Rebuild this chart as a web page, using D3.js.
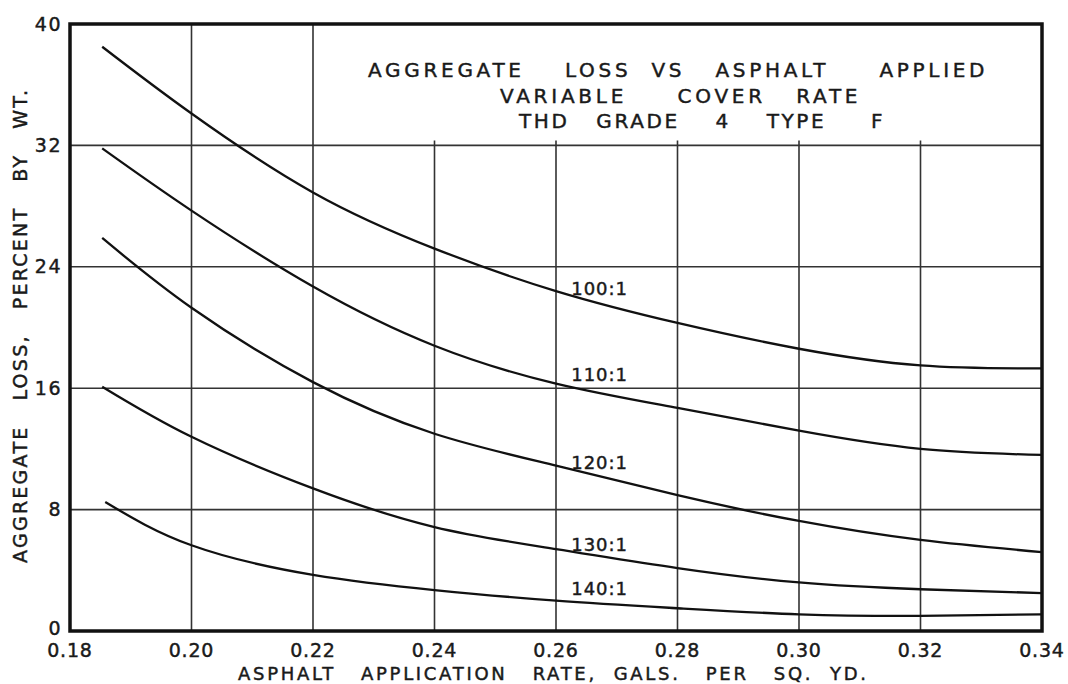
<!DOCTYPE html>
<html>
<head>
<meta charset="utf-8">
<script src="https://cdn.jsdelivr.net/npm/d3@7"></script>
<style>
  body { margin: 0; background: #fff; }
  svg text {
    font-family: "DejaVu Sans", "Liberation Sans", sans-serif;
    fill: #1a1a1a; stroke: #1a1a1a; stroke-width: 0.45px;
    white-space: pre;
  }
</style>
</head>
<body>
<div id="chart"></div>
<script>
// values
var rates = [0.1853, 0.20, 0.22, 0.24, 0.26, 0.28, 0.30, 0.32, 0.34];
var loss100 = [38.5, 34.1, 28.9, 25.2, 22.4, 20.3, 18.6, 17.5, 17.3];
var loss110 = [31.8, 27.7, 22.7, 18.8, 16.3, 14.7, 13.2, 12.0, 11.6];
var loss120 = [25.9, 21.3, 16.4, 13.0, 10.9, 8.95, 7.25, 6.0, 5.2];
var loss130 = [16.1, 12.8, 9.4, 6.85, 5.4, 4.15, 3.2, 2.75, 2.5];
var rates140 = [0.1858, 0.20, 0.22, 0.24, 0.26, 0.28, 0.30, 0.32, 0.34];
var loss140 = [8.5, 5.65, 3.7, 2.7, 2.0, 1.5, 1.1, 1.0, 1.1];

var curveNames = ["100:1", "110:1", "120:1", "130:1", "140:1"];
var labelY = [22.6, 16.9, 11.1, 5.7, 2.8]; // where the labels sit (value units)
var labelX = 0.2625;

var xTicks = [0.18, 0.20, 0.22, 0.24, 0.26, 0.28, 0.30, 0.32, 0.34];
var yTicks = [0, 8, 16, 24, 32, 40];
var titleLines = [
  "AGGREGATE    LOSS  VS   ASPHALT     APPLIED",
  "VARIABLE     COVER   RATE",
  "THD   GRADE    4    TYPE     F"
];
var xTitle = "ASPHALT   APPLICATION   RATE,  GALS.   PER   SQ.  YD.";
var yTitle = "AGGREGATE   LOSS,   PERCENT   BY   WT.";

var width = 1068, height = 684;
var m = { left: 70, right: 1042, top: 24, bottom: 631 };

var x = d3.scaleLinear().domain([0.18, 0.34]).range([m.left, m.right]);
var y = d3.scaleLinear().domain([0, 40]).range([m.bottom, m.top]);

var svg = d3.select("#chart").append("svg")
  .attr("width", width)
  .attr("height", height);

// grid
var grid = svg.append("g").attr("stroke", "#333").attr("stroke-width", 1.6);
xTicks.slice(1, -1).forEach(function(t) {
  // lines right of 0.22 stop under the title block
  var yTop = t > 0.23 ? y(32) - 5 : y(40);
  grid.append("line")
    .attr("x1", x(t)).attr("x2", x(t))
    .attr("y1", yTop).attr("y2", y(0));
});
yTicks.slice(1, -1).forEach(function(t) {
  grid.append("line")
    .attr("x1", x(0.18)).attr("x2", x(0.34))
    .attr("y1", y(t)).attr("y2", y(t));
});

// curves
var line = d3.line()
  .x(function(d) { return x(d[0]); })
  .y(function(d) { return y(d[1]); })
  .curve(d3.curveNatural);

var series = [
  d3.zip(rates, loss100),
  d3.zip(rates, loss110),
  d3.zip(rates, loss120),
  d3.zip(rates, loss130),
  d3.zip(rates140, loss140)
];

svg.append("g").selectAll("path")
  .data(series)
  .enter().append("path")
  .attr("d", line)
  .attr("fill", "none")
  .attr("stroke", "#111")
  .attr("stroke-width", 2.3);

// curve labels
svg.append("g").selectAll("text")
  .data(curveNames)
  .enter().append("text")
  .attr("x", x(labelX))
  .attr("y", function(d, i) { return y(labelY[i]); })
  .attr("dy", "0.36em")
  .attr("font-size", 18)
  .attr("letter-spacing", 1)
  .text(function(d) { return d; });

// frame
svg.append("rect")
  .attr("x", m.left).attr("y", m.top)
  .attr("width", m.right - m.left).attr("height", m.bottom - m.top)
  .attr("fill", "none")
  .attr("stroke", "#111")
  .attr("stroke-width", 3.5);

// y tick labels
svg.append("g").selectAll("text")
  .data(yTicks)
  .enter().append("text")
  .attr("x", 62)
  .attr("y", function(d) { return y(d); })
  .attr("dy", function(d) { return d === 0 ? "0.2em" : "0.35em"; })
  .attr("text-anchor", "end")
  .attr("font-size", 19)
  .attr("letter-spacing", 1.5)
  .text(function(d) { return d; });

// x tick labels
svg.append("g").selectAll("text")
  .data(xTicks)
  .enter().append("text")
  .attr("x", function(d) { return x(d); })
  .attr("y", 657)
  .attr("text-anchor", "middle")
  .attr("font-size", 19)
  .attr("letter-spacing", 0.8)
  .text(function(d) { return d3.format(".2f")(d); });

// axis titles
svg.append("text")
  .attr("x", 238).attr("y", 680)
  .attr("font-size", 18)
  .attr("letter-spacing", 2)
  .attr("textLength", 630)
  .attr("lengthAdjust", "spacing")
  .text(xTitle);

svg.append("text")
  .attr("transform", "translate(27,563) rotate(-90)")
  .attr("font-size", 19)
  .attr("letter-spacing", 2)
  .attr("textLength", 475)
  .attr("lengthAdjust", "spacing")
  .text(yTitle);

// title block
var titlePos = [[368, 77, 618], [500, 103, 359], [519, 128, 365]];
svg.append("g").selectAll("text")
  .data(titleLines)
  .enter().append("text")
  .attr("x", function(d, i) { return titlePos[i][0]; })
  .attr("y", function(d, i) { return titlePos[i][1]; })
  .attr("textLength", function(d, i) { return titlePos[i][2]; })
  .attr("lengthAdjust", "spacing")
  .attr("font-size", 20)
  .attr("letter-spacing", 1.5)
  .text(function(d) { return d; });
</script>
</body>
</html>
